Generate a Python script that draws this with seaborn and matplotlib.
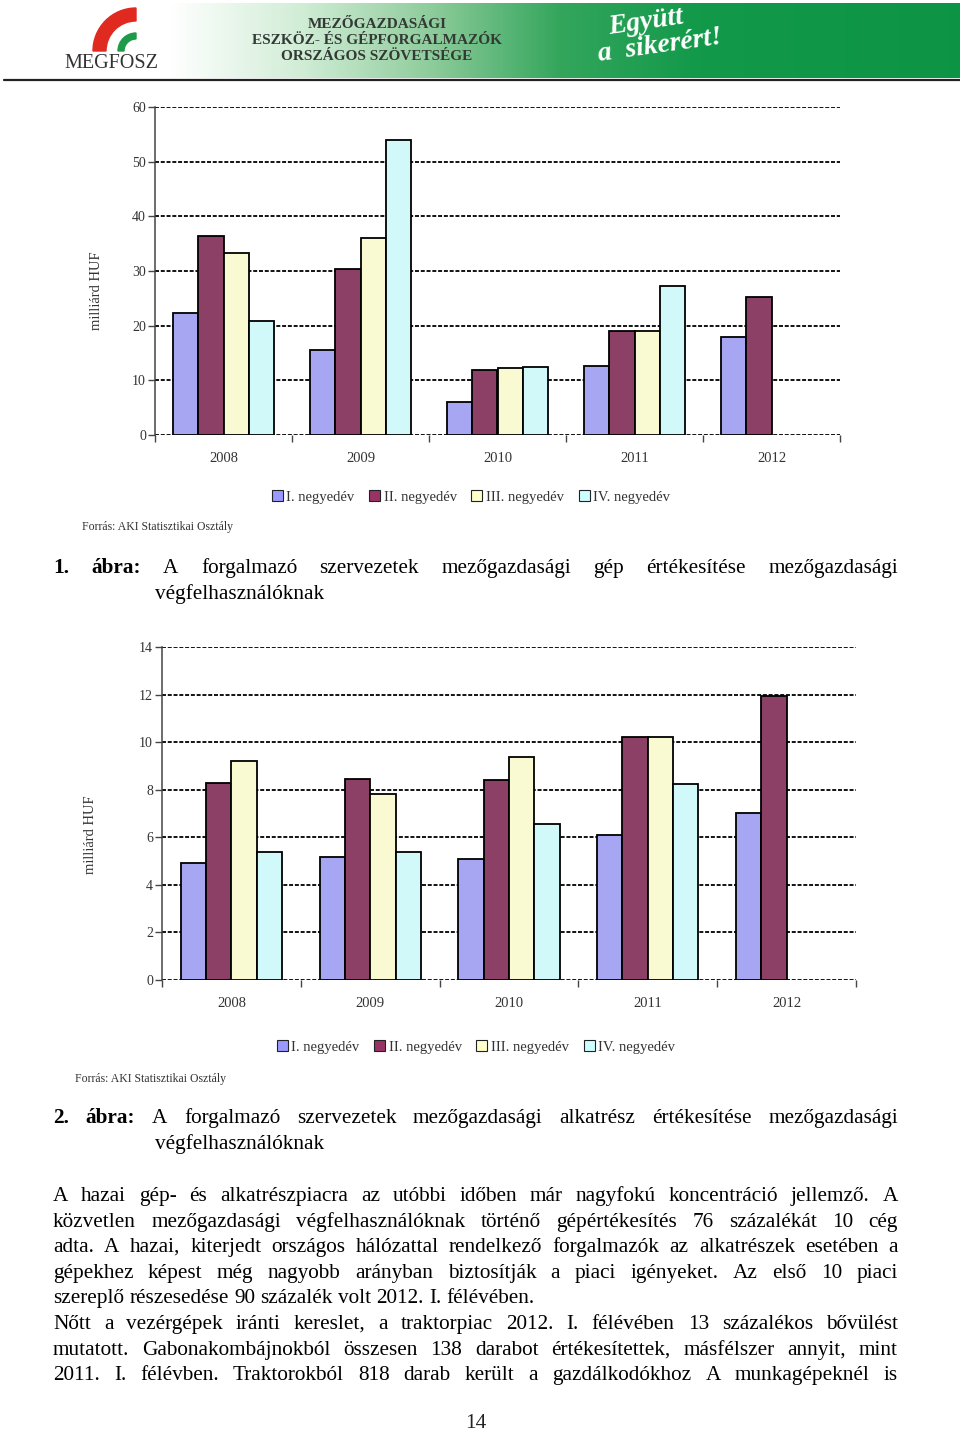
import numpy as np
import pandas as pd
import matplotlib
matplotlib.use('Agg')
import matplotlib.pyplot as plt
import seaborn as sns
from matplotlib.patches import Patch, Wedge

W, H = 960, 1433

years = ['2008', '2009', '2010', '2011', '2012']
quarters = ['I. negyedév', 'II. negyedév', 'III. negyedév', 'IV. negyedév']
colors = ['#9999ff', '#993366', '#ffffcc', '#ccffff']

# 1. ábra - gép értékesítés (milliárd HUF)
gep_q1 = [22.4, 15.6, 6.1, 12.7, 18.0]
gep_q2 = [36.4, 30.4, 11.8, 19.1, 25.2]
gep_q3 = [33.3, 36.1, 12.2, 19.1, np.nan]
gep_q4 = [20.9, 53.9, 12.4, 27.3, np.nan]

# 2. ábra - alkatrész értékesítés (milliárd HUF)
alk_q1 = [4.9, 5.16, 5.08, 6.09, 7.04]
alk_q2 = [8.29, 8.43, 8.42, 10.23, 11.95]
alk_q3 = [9.22, 7.84, 9.37, 10.2, np.nan]
alk_q4 = [5.39, 5.39, 6.54, 8.25, np.nan]

caption1 = ['A forgalmazó szervezetek mezőgazdasági gép értékesítése mezőgazdasági',
            'végfelhasználóknak']
caption2 = ['A forgalmazó szervezetek mezőgazdasági alkatrész értékesítése mezőgazdasági',
            'végfelhasználóknak']
body = [
    ('A hazai gép- és alkatrészpiacra az utóbbi időben már nagyfokú koncentráció jellemző. A', True),
    ('közvetlen mezőgazdasági végfelhasználóknak történő gépértékesítés 76 százalékát 10 cég', True),
    ('adta. A hazai, kiterjedt országos hálózattal rendelkező forgalmazók az alkatrészek esetében a', True),
    ('gépekhez képest még nagyobb arányban biztosítják a piaci igényeket. Az első 10 piaci', True),
    ('szereplő részesedése 90 százalék volt 2012. I. félévében.', False),
    ('Nőtt a vezérgépek iránti kereslet, a traktorpiac 2012. I. félévében 13 százalékos bővülést', True),
    ('mutatott. Gabonakombájnokból összesen 138 darabot értékesítettek, másfélszer annyit, mint', True),
    ('2011. I. félévben. Traktorokból 818 darab került a gazdálkodókhoz A munkagépeknél is', True),
]
body_base = [1201, 1227, 1252, 1278, 1303, 1329, 1355, 1380]

sns.set_theme(style='white')
plt.rcParams['font.family'] = ['Liberation Serif', 'DejaVu Serif']

fig = plt.figure(figsize=(W / 100, H / 100), dpi=100)
fig.patch.set_facecolor('white')


def px_axes(left, top, right, bottom):
    return fig.add_axes([left / W, 1 - bottom / H, (right - left) / W, (bottom - top) / H])


def draw_chart(ax, q1, q2, q3, q4, ymax, ystep):
    df = pd.DataFrame({
        'ev': years * 4,
        'negyedev': np.repeat(quarters, len(years)),
        'ertek': q1 + q2 + q3 + q4,
    }).dropna()
    sns.barplot(data=df, x='ev', y='ertek', hue='negyedev', order=years,
                hue_order=quarters, palette=dict(zip(quarters, colors)),
                width=0.73, gap=0, edgecolor='black', linewidth=1.3,
                errorbar=None, legend=False, ax=ax, zorder=3)
    ticks = np.arange(0, ymax + 0.1, ystep)
    for t in ticks:
        ax.axhline(t, color='black', lw=1.3, ls=(0, (2.2, 1.0)), zorder=1)
    ax.set_xlim(-0.5, 4.5)
    ax.set_ylim(0, ymax)
    ax.set_yticks(ticks)
    ax.set_yticklabels([f'{t:g}' for t in ticks])
    ax.set_xticks(range(len(years)))
    ax.set_xticks(np.arange(-0.5, 5, 1), minor=True)
    ax.set_xlabel('')
    ax.set_ylabel('')
    for s in ['top', 'right', 'bottom']:
        ax.spines[s].set_visible(False)
    ax.spines['left'].set_color('#444444')
    ax.spines['left'].set_linewidth(1.1)
    ax.tick_params(axis='y', length=5, width=1, color='#444444', pad=1.5,
                   labelsize=10, labelcolor='#333333', left=True)
    ax.tick_params(axis='x', which='major', length=0, pad=12, labelsize=10.5,
                   labelcolor='#333333')
    ax.tick_params(axis='x', which='minor', length=5, width=1, color='#444444',
                   bottom=True, direction='out')
    ax.set_facecolor('white')


def legend_at(cx, cy):
    handles = [Patch(facecolor=c, edgecolor='#222222', lw=0.8) for c in colors]
    fig.legend(handles, quarters, loc='center', bbox_to_anchor=(cx / W, 1 - cy / H),
               ncol=4, frameon=False, fontsize=10.5, handlelength=0.75,
               handleheight=0.75, handletextpad=0.25, columnspacing=1.0,
               labelcolor='#333333')


# header banner
hax = px_axes(0, 0, W, 82)
hax.set_xlim(0, W)
hax.set_ylim(82, 0)
hax.axis('off')
stops_x = [0, 170, 300, 430, 560, 700, 960]
stops_c = np.array([[1, 1, 1], [1, 1, 1], [0.82, 0.93, 0.84], [0.56, 0.80, 0.61],
                    [0.20, 0.65, 0.36], [0.07, 0.60, 0.29], [0.05, 0.58, 0.27]])
gx = np.arange(W)
grad = np.stack([np.interp(gx, stops_x, stops_c[:, k]) for k in range(3)], axis=-1)[None, :, :]
hax.imshow(grad, extent=(0, W, 78, 3), aspect='auto', zorder=0)
hax.plot([4, W], [80, 80], color='#222222', lw=1.6, zorder=2)
hax.add_patch(Wedge((136, 51), 43, 180, 270, width=13, color='#e02a1f', zorder=3))
hax.add_patch(Wedge((136, 51), 18, 180, 270, width=6, color='#1f9a4a', zorder=3))
hax.text(111, 63, 'MEGFOSZ', ha='center', va='center', fontsize=14.5,
         color='#333333', zorder=4)
for ty, line in zip([24, 41, 57], ['MEZŐGAZDASÁGI', 'ESZKÖZ- ÉS GÉPFORGALMAZÓK',
                                  'ORSZÁGOS SZÖVETSÉGE']):
    hax.text(377, ty, line, ha='center', va='center', fontsize=11,
             fontweight='bold', color='#333a36', zorder=4)
hax.text(646, 22, 'Együtt', ha='center', va='center', fontsize=20, style='italic',
         fontweight='bold', color='white', rotation=8, zorder=4)
hax.text(660, 46, 'a  sikerért!', ha='center', va='center', fontsize=20, style='italic',
         fontweight='bold', color='white', rotation=8, zorder=4)

# charts
ax1 = px_axes(155, 107, 840, 435)
draw_chart(ax1, gep_q1, gep_q2, gep_q3, gep_q4, 60, 10)
fig.text(97 / W, 1 - 291 / H, 'milliárd HUF', rotation=90, ha='center', va='center',
         fontsize=10.5, color='#333333')
legend_at(471, 497)
fig.text(82 / W, 1 - 527 / H, 'Forrás: AKI Statisztikai Osztály', ha='left', va='center',
         fontsize=8.5, color='#333333')

ax2 = px_axes(162, 647, 856, 980)
draw_chart(ax2, alk_q1, alk_q2, alk_q3, alk_q4, 14, 2)
fig.text(90 / W, 1 - 835 / H, 'milliárd HUF', rotation=90, ha='center', va='center',
         fontsize=10.5, color='#333333')
legend_at(476, 1047)
fig.text(75 / W, 1 - 1079 / H, 'Forrás: AKI Statisztikai Osztály', ha='left', va='center',
         fontsize=8.5, color='#333333')

# justified text
renderer = fig.canvas.get_renderer()
TXT = 15.3


def text_line(words, x0, x1, base, justify=True, bold=0):
    arts = []
    for i, w in enumerate(words):
        arts.append(fig.text(0, 1 - base / H, w, ha='left', va='baseline', fontsize=TXT,
                             fontweight='bold' if i < bold else 'normal', color='black'))
    widths = [a.get_window_extent(renderer).width for a in arts]
    if justify and len(words) > 1:
        gap = (x1 - x0 - sum(widths)) / (len(words) - 1)
    else:
        gap = TXT * 0.25 * 100 / 72
    x = x0
    for a, w in zip(arts, widths):
        a.set_x(x / W)
        x += w + gap


text_line(['1.', 'ábra:'] + caption1[0].split(), 53, 898, 573, bold=2)
text_line(caption1[1].split(), 155, 898, 599, justify=False)
text_line(['2.', 'ábra:'] + caption2[0].split(), 53, 898, 1123, bold=2)
text_line(caption2[1].split(), 155, 898, 1149, justify=False)
for (line, just), base in zip(body, body_base):
    text_line(line.split(), 53, 898, base, justify=just)

fig.text(476 / W, 1 - 1423 / H, '14', ha='center', va='center', fontsize=TXT, color='#222222')

fig.savefig('out.png', dpi=100, facecolor='white')
